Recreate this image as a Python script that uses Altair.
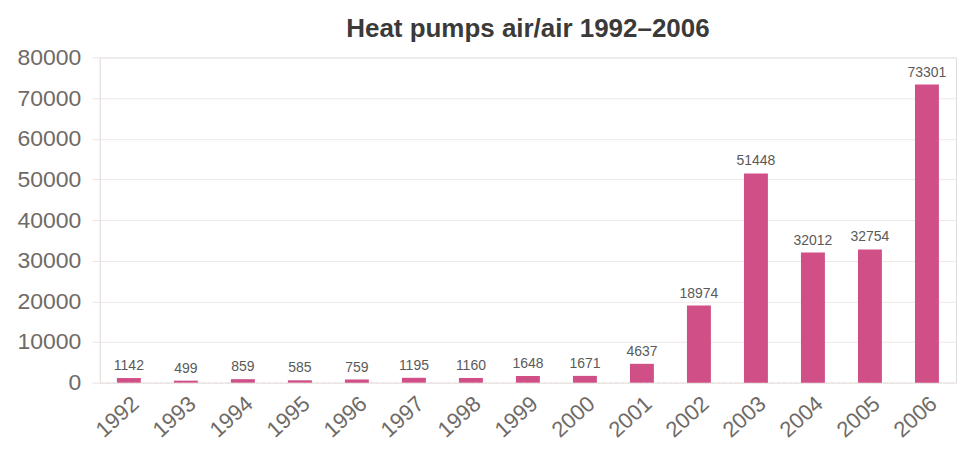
import altair as alt
import pandas as pd

years = ["1992", "1993", "1994", "1995", "1996", "1997", "1998", "1999",
         "2000", "2001", "2002", "2003", "2004", "2005", "2006"]
values = [1142, 499, 859, 585, 759, 1195, 1160, 1648, 1671, 4637,
          18974, 51448, 32012, 32754, 73301]

df = pd.DataFrame({"year": years, "value": values})

base = alt.Chart(df).encode(
    x=alt.X("year:N", sort=years, title=None,
            scale=alt.Scale(paddingInner=0.58, paddingOuter=0.3),
            axis=alt.Axis(labelAngle=-42, labelFontSize=22, labelColor="#6f6a66",
                          labelFont="Liberation Sans", labelAlign="right",
                          labelBaseline="top", labelPadding=10,
                          ticks=False, domain=True, domainColor="#e8e0de",
                          domainDash=[3, 3])),
    y=alt.Y("value:Q", title=None,
            scale=alt.Scale(domain=[0, 80000]),
            axis=alt.Axis(values=list(range(0, 80001, 10000)), format="d",
                          labelFontSize=23,
                          labelColor="#6f6a66", labelFont="Liberation Sans",
                          labelPadding=11, ticks=True, tickSize=8,
                          tickColor="#ebe3e1", domain=True, domainColor="#ebe3e1",
                          grid=True, gridColor="#efe8e6", labelFlush=False)),
)

bars = base.mark_bar(color="#d14f87")
labels = base.mark_text(dy=-12, fontSize=14, color="#5a5a5a",
                        font="Liberation Sans").encode(text="value:Q")

chart = (bars + labels).properties(
    width=858, height=326,
    title=alt.TitleParams("Heat pumps air/air 1992–2006", fontSize=26,
                          font="Liberation Sans", fontWeight="bold",
                          color="#3a3a3a", anchor="middle", offset=4),
    padding={"left": 9, "top": 8, "right": 5, "bottom": 5},
).configure_view(stroke=None).configure(background="white")

chart.save("out.html", embed_options={"renderer": "svg", "actions": False})
